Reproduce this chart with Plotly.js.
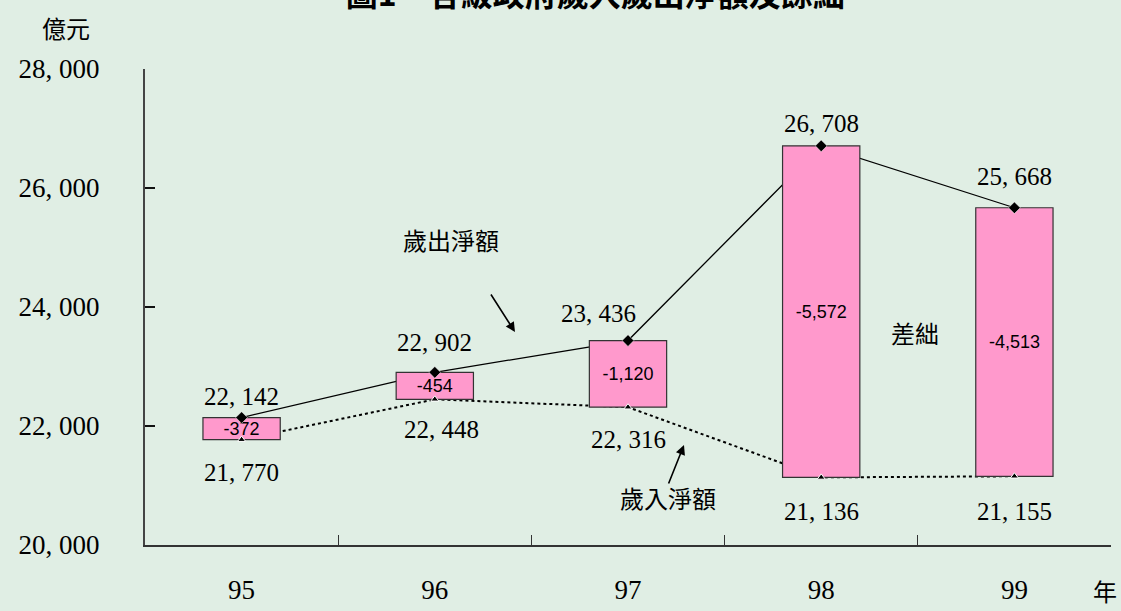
<!DOCTYPE html>
<html>
<head>
<meta charset="utf-8">
<script src="https://cdn.plot.ly/plotly-3.0.1.min.js"></script>
<style>
html,body{margin:0;padding:0;background:#E0EEE4;}
#chart{width:1121px;height:611px;}
</style>
</head>
<body>
<div id="chart"></div>
<script>
// ---- data ----
const years = ['95', '96', '97', '98', '99'];
const expenditure = [22142, 22902, 23436, 26708, 25668];   // 歲出淨額
const revenue = [21770, 22448, 22316, 21136, 21155];       // 歲入淨額
const balance = [-372, -454, -1120, -5572, -4513];         // 差絀
const yTickVals = [20000, 22000, 24000, 26000, 28000];
const yTickText = ['20, 000', '22, 000', '24, 000', '26, 000', '28, 000'];

// ---- label placement (pixels) ----
const expShiftY = [21, 30, 27, 22, 31];
const expShiftX = [0, 0, -30, 0, 0];
const revShiftY = [-33, -30, -32, -34, -35];
const revShiftX = [0, 7, 0, 0, 0];

const fmtSpaced = v => v.toLocaleString('en-US').replace(',', ', ');
const fmtPlain = v => v.toLocaleString('en-US');

const serif = 'Liberation Serif, Noto Sans CJK TC, serif';
const cjk = 'Noto Sans CJK TC, sans-serif';
const narrow = 'Liberation Sans Narrow, Arial Narrow, Liberation Sans, sans-serif';

const traces = [
  // lines (behind bars)
  {x: years, y: expenditure, type: 'scatter', mode: 'lines',
   line: {color: '#000', width: 1.3}, xaxis: 'x', yaxis: 'y', hoverinfo: 'skip'},
  {x: years, y: revenue, type: 'scatter', mode: 'lines',
   line: {color: '#000', width: 2, dash: 'dot'}, xaxis: 'x', yaxis: 'y', hoverinfo: 'skip'},
  // floating bars
  {x: years, y: expenditure.map((e, i) => e - revenue[i]), base: revenue, type: 'bar',
   width: 0.4, marker: {color: '#FF99CC', line: {color: '#333', width: 1.2}},
   text: balance.map(fmtPlain), textposition: 'inside', insidetextanchor: 'middle',
   textfont: {family: narrow, size: 18, color: '#000'},
   xaxis: 'x2', yaxis: 'y2', hoverinfo: 'skip'},
  // markers on top
  {x: years, y: expenditure, type: 'scatter', mode: 'markers',
   marker: {symbol: 'diamond', size: 9, color: '#000', line: {color: '#fff', width: 0.5}},
   xaxis: 'x3', yaxis: 'y3', hoverinfo: 'skip'},
  {x: years, y: revenue, type: 'scatter', mode: 'markers',
   marker: {symbol: 'triangle-up', size: 7, color: '#000', line: {color: '#fff', width: 1}},
   xaxis: 'x3', yaxis: 'y3', hoverinfo: 'skip'}
];

const annotations = [];
years.forEach((yr, i) => {
  annotations.push({x: i, y: expenditure[i], xref: 'x', yref: 'y', text: fmtSpaced(expenditure[i]),
    showarrow: false, yanchor: 'middle', xanchor: 'center', yshift: expShiftY[i], xshift: expShiftX[i],
    font: {family: serif, size: 25, color: '#000'}});
  annotations.push({x: i, y: revenue[i], xref: 'x', yref: 'y', text: fmtSpaced(revenue[i]),
    showarrow: false, yanchor: 'middle', xanchor: 'center', yshift: revShiftY[i], xshift: revShiftX[i],
    font: {family: serif, size: 25, color: '#000'}});
});

// plot area: x 145..1111, y 69..545
const px = X => (X - 145) / 966;
const py = Y => (545 - Y) / 476;
const note = (X, Y, t) => ({xref: 'paper', yref: 'paper', x: px(X), y: py(Y), text: t, showarrow: false,
  xanchor: 'center', yanchor: 'middle', font: {family: cjk, size: 24, color: '#000'}});

annotations.push(
  note(451, 240, '歲出淨額'),
  {xref: 'paper', yref: 'paper', x: px(515), y: py(332), text: '', showarrow: true,
   ax: -25, ay: -39, arrowhead: 2, arrowsize: 1.2, arrowwidth: 1.6, arrowcolor: '#000'},
  note(668, 497, '歲入淨額'),
  {xref: 'paper', yref: 'paper', x: px(684), y: py(445), text: '', showarrow: true,
   ax: -16, ay: 40, arrowhead: 2, arrowsize: 1.2, arrowwidth: 1.6, arrowcolor: '#000'},
  note(915, 332, '差絀'),
  note(66, 27, '億元'),
  note(1105, 590, '年')
);

const hiddenX = {type: 'category', range: [-0.5, 4.5], overlaying: 'x', visible: false, fixedrange: true};
const hiddenY = {range: [20000, 28000], overlaying: 'y', visible: false, fixedrange: true};

const layout = {
  width: 1121, height: 611,
  paper_bgcolor: '#E0EEE4', plot_bgcolor: 'rgba(0,0,0,0)',
  margin: {l: 145, r: 10, t: 69, b: 66},
  showlegend: false,
  title: {text: '<b>圖1　各級政府歲入歲出淨額及餘絀</b>', xref: 'container', x: 0.531, xanchor: 'center',
          yref: 'container', y: 0.99, yanchor: 'bottom',
          font: {family: cjk, size: 32, color: '#000'}},
  xaxis: {type: 'category', range: [-0.5, 4.5], tickson: 'boundaries', ticks: 'inside', ticklen: 10,
          tickcolor: '#333', tickwidth: 1, showline: true, linecolor: '#333', linewidth: 2,
          showgrid: false, zeroline: false, ticklabelstandoff: 20,
          tickfont: {family: serif, size: 27, color: '#000'}, fixedrange: true},
  yaxis: {range: [20000, 28000], tickvals: yTickVals, ticktext: yTickText, ticks: 'inside', ticklen: 10,
          tickcolor: '#111', tickwidth: 1.5, showline: true, linecolor: '#444', linewidth: 2,
          showgrid: false, zeroline: false, ticklabelstandoff: 38,
          tickfont: {family: serif, size: 27, color: '#000'}, fixedrange: true},
  xaxis2: Object.assign({}, hiddenX), yaxis2: Object.assign({}, hiddenY),
  xaxis3: Object.assign({}, hiddenX), yaxis3: Object.assign({}, hiddenY),
  uniformtext: {mode: 'show', minsize: 18},
  annotations: annotations
};

Plotly.newPlot('chart', traces, layout, {displayModeBar: false, staticPlot: true});
</script>
</body>
</html>
